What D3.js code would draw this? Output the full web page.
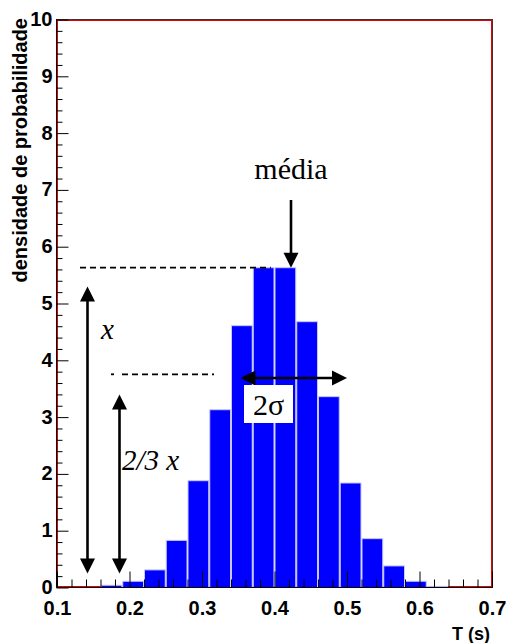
<!DOCTYPE html>
<html>
<head>
<meta charset="utf-8">
<script src="https://cdn.jsdelivr.net/npm/d3@7"></script>
<style>
  html, body { margin: 0; padding: 0; background: #fff; }
  svg { display: block; }
</style>
</head>
<body>
<svg id="chart" width="507" height="643"></svg>
<script>
// Histogram of the measured period T: lower edge of each 0.03 s bin and its probability density
const binLow = [0.10, 0.13, 0.16, 0.19, 0.22, 0.25, 0.28, 0.31, 0.34, 0.37,
                0.40, 0.43, 0.46, 0.49, 0.52, 0.55, 0.58, 0.61, 0.64, 0.67];
const density = [0, 0, 0.04, 0.11, 0.31, 0.83, 1.88, 3.13, 4.61, 5.63,
                 5.63, 4.68, 3.36, 1.84, 0.86, 0.38, 0.11, 0.02, 0, 0];
const binWidth = 0.03;

// Axis ticks
const xTicks = [0.1, 0.2, 0.3, 0.4, 0.5, 0.6, 0.7];
const xTickLabels = ["0.1", "0.2", "0.3", "0.4", "0.5", "0.6", "0.7"];
const yTicks = [0, 1, 2, 3, 4, 5, 6, 7, 8, 9, 10];

// Annotation values (in data units)
const peak = 5.63;                 // height marked as x
const twoThirds = peak * 2 / 3;    // height marked as 2/3 x
const meanT = 0.4;                 // mean period
const sigmaLeft = 0.353, sigmaRight = 0.5;  // width marked as 2σ

const svg = d3.select("#chart");
const x = d3.scaleLinear().domain([0.1, 0.7]).range([57, 492]);
const y = d3.scaleLinear().domain([0, 10]).range([587.5, 19.5]);

const AX_FONT = "'Liberation Sans', Arial, Helvetica, sans-serif";
const TXT_FONT = "'Liberation Serif', 'Times New Roman', serif";

// Frame: dark outer line with red inner line
svg.append("rect").attr("x", 57.5).attr("y", 20.5).attr("width", 434).attr("height", 566)
  .attr("fill", "none").attr("stroke", "#e00000").attr("stroke-width", 1);
svg.append("rect").attr("x", 56.5).attr("y", 19.5).attr("width", 436).attr("height", 568)
  .attr("fill", "none").attr("stroke", "#4a3030").attr("stroke-width", 1);

// Bars
svg.append("g").selectAll("rect")
  .data(binLow.map((lo, i) => ({ lo, v: density[i] })).filter(d => d.v > 0))
  .join("rect")
  .attr("x", d => x(d.lo) + 0.5)
  .attr("width", d => x(d.lo + binWidth) - x(d.lo) - 1)
  .attr("y", d => y(d.v))
  .attr("height", d => y(0) - y(d.v))
  .attr("fill", "#0000ff")
  .attr("stroke", "#c8c8ff")
  .attr("stroke-width", 1);

// Y axis: major and minor ticks drawn inside the frame
const yMinor = d3.range(0, 10.001, 0.2).filter(v => Math.abs(v - Math.round(v)) > 1e-6);
svg.append("g").attr("transform", "translate(56.5,0)")
  .call(d3.axisLeft(y).tickValues(yMinor).tickSize(-6).tickFormat(""))
  .call(g => g.select(".domain").remove())
  .selectAll("line").attr("stroke", "#000");
svg.append("g").attr("transform", "translate(56.5,0)")
  .call(d3.axisLeft(y).tickValues(yTicks).tickSize(-12).tickFormat(d3.format("d")))
  .call(g => g.select(".domain").attr("stroke", "#000").attr("d", `M0,${y(10)}V${y(0)}`))
  .call(g => g.selectAll("line").attr("stroke", "#000"))
  .call(g => g.selectAll("text")
    .attr("font-family", AX_FONT).attr("font-weight", "bold").attr("font-size", 20)
    .attr("fill", "#000").attr("x", -4).attr("dy", "0.3em"));

// X axis: major and minor ticks drawn inside the frame
const xMinor = d3.range(0.1, 0.7001, 0.02).filter(v => Math.abs(v * 10 - Math.round(v * 10)) > 1e-6);
svg.append("g").attr("transform", "translate(0,587.5)")
  .call(d3.axisBottom(x).tickValues(xMinor).tickSize(-8).tickFormat(""))
  .call(g => g.select(".domain").remove())
  .selectAll("line").attr("stroke", "#000");
svg.append("g").attr("transform", "translate(0,587.5)")
  .call(d3.axisBottom(x).tickValues(xTicks).tickSize(-16)
    .tickFormat((d, i) => xTickLabels[i]))
  .call(g => g.select(".domain").attr("stroke", "#000").attr("d", `M${x(0.1)},0H${x(0.7)}`))
  .call(g => g.selectAll("line").attr("stroke", "#000"))
  .call(g => g.selectAll("text")
    .attr("font-family", AX_FONT).attr("font-weight", "bold").attr("font-size", 20)
    .attr("fill", "#000").attr("y", 13).attr("dy", "0.71em"));

// Axis titles
svg.append("text")
  .attr("x", 490).attr("y", 640)
  .attr("text-anchor", "end")
  .attr("font-family", AX_FONT).attr("font-weight", "bold").attr("font-size", 18)
  .text("T (s)");
svg.append("text")
  .attr("transform", "translate(27,18) rotate(-90)")
  .attr("text-anchor", "end")
  .attr("font-family", AX_FONT).attr("font-weight", "bold").attr("font-size", 20)
  .text("densidade de probabilidade");

// Annotations
const ann = svg.append("g");

function head(tx, ty, dir) {
  // triangle arrowhead with its tip at (tx, ty), pointing in dir
  const L = 15, W = 7.5;
  let p;
  if (dir === "down") p = [[tx, ty], [tx - W, ty - L], [tx + W, ty - L]];
  if (dir === "up") p = [[tx, ty], [tx - W, ty + L], [tx + W, ty + L]];
  if (dir === "left") p = [[tx, ty], [tx + L, ty - W], [tx + L, ty + W]];
  if (dir === "right") p = [[tx, ty], [tx - L, ty - W], [tx - L, ty + W]];
  ann.append("path").attr("d", "M" + p.join("L") + "Z").attr("fill", "#000");
}
function line(x1, y1, x2, y2, dash, w) {
  ann.append("line").attr("x1", x1).attr("y1", y1).attr("x2", x2).attr("y2", y2)
    .attr("stroke", "#000").attr("stroke-width", w || (dash ? 1.8 : 2.6))
    .attr("stroke-dasharray", dash || null);
}

// dashed reference levels
line(80, y(peak), x(meanT - 0.005), y(peak), "6,4");
line(111, y(twoThirds), 114, y(twoThirds), null, 1.8);
line(122, y(twoThirds), 214, y(twoThirds), "6,4");

// média arrow
ann.append("text").attr("x", 291).attr("y", 179).attr("text-anchor", "middle")
  .attr("font-family", TXT_FONT).attr("font-size", 30).text("média");
line(291, 200, 291, y(peak) - 12);
head(291, y(peak), "down");

// x double arrow
line(87.5, 298, 87.5, 562);
head(87.5, 286.5, "up");
head(87.5, 573.5, "down");
ann.append("text").attr("x", 101).attr("y", 339)
  .attr("font-family", TXT_FONT).attr("font-style", "italic").attr("font-size", 29).text("x");

// 2/3 x double arrow
line(119.5, 406, 119.5, 562);
head(119.5, 394.5, "up");
head(119.5, 573.5, "down");
ann.append("text").attr("x", 122).attr("y", 470)
  .attr("font-family", TXT_FONT).attr("font-style", "italic").attr("font-size", 29).text("2/3 x");

// 2σ double arrow with boxed label
const ys = 378;
line(x(sigmaLeft) + 12, ys, x(sigmaRight) - 12, ys);
head(x(sigmaLeft), ys, "left");
head(x(sigmaRight), ys, "right");
ann.append("rect").attr("x", 244).attr("y", 385).attr("width", 49).attr("height", 38).attr("fill", "#fff");
ann.append("text").attr("x", 268.5).attr("y", 415).attr("text-anchor", "middle")
  .attr("font-family", TXT_FONT).attr("font-size", 30).text("2σ");
</script>
</body>
</html>
